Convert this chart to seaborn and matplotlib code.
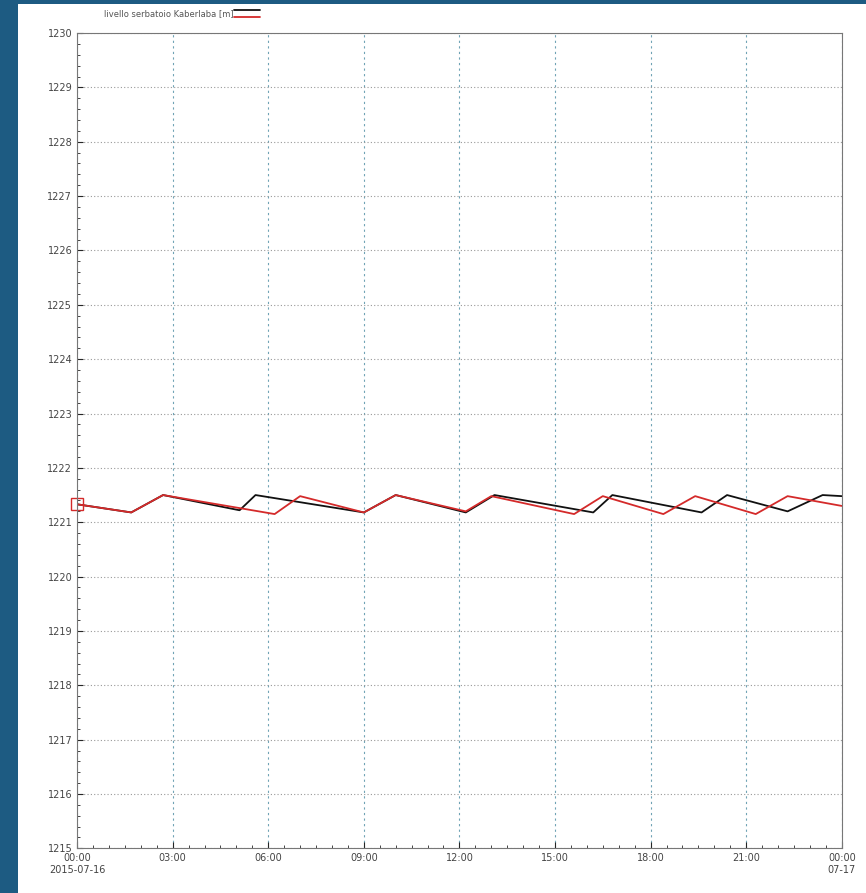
import matplotlib
matplotlib.use("Agg")
import matplotlib.pyplot as plt
import seaborn as sns
import numpy as np
import pandas as pd
from matplotlib.ticker import MultipleLocator, FormatStrFormatter

black_h = [0, 1.7, 2.7, 5.1, 5.6, 9.0, 10.0, 12.2, 13.1, 16.2, 16.8, 19.6, 20.4, 22.3, 23.4, 24.0]
black_v = [1221.33, 1221.18, 1221.5, 1221.22, 1221.5, 1221.18, 1221.5, 1221.18, 1221.5, 1221.18, 1221.5, 1221.18, 1221.5, 1221.2, 1221.5, 1221.48]
red_h = [0, 1.7, 2.7, 6.2, 7.0, 9.0, 10.0, 12.2, 13.0, 15.6, 16.5, 18.4, 19.4, 21.3, 22.3, 24.0]
red_v = [1221.33, 1221.18, 1221.5, 1221.15, 1221.48, 1221.18, 1221.5, 1221.2, 1221.48, 1221.15, 1221.48, 1221.15, 1221.48, 1221.15, 1221.48, 1221.3]
xticks = [0, 3, 6, 9, 12, 15, 18, 21, 24]
xlabels = ["00:00\n2015-07-16", "03:00", "06:00", "09:00", "12:00", "15:00", "18:00", "21:00", "00:00\n07-17"]
legend_label = "livello serbatoio Kaberlaba [m]"

sns.set_style("white")
fig = plt.figure(figsize=(8.66, 8.93), dpi=100, facecolor="#1d5b82")
bg = fig.add_axes([0.021, 0, 0.979, 0.995], zorder=-1)
bg.set_axis_off()
bg.add_patch(plt.Rectangle((0, 0), 1, 1, color="white", transform=bg.transAxes))

ax = fig.add_axes([0.089, 0.050, 0.883, 0.913])
ax.set_facecolor("white")

df = pd.concat([pd.DataFrame({"h": black_h, "v": black_v, "s": "a"}),
                pd.DataFrame({"h": red_h, "v": red_v, "s": "b"})])
sns.lineplot(data=df, x="h", y="v", hue="s", palette={"a": "#111111", "b": "#d42a2a"},
             ax=ax, legend=False, linewidth=1.3, estimator=None, sort=False)
ax.plot([black_h[0]], [black_v[0]], marker="s", mfc="none", mec="#d42a2a", ms=8, clip_on=False)

ax.set_xlim(0, 24)
ax.set_ylim(1215, 1230)
ax.set_xticks(xticks)
ax.set_xticklabels(xlabels, fontsize=7, color="#444444")
ax.yaxis.set_major_locator(MultipleLocator(1))
ax.yaxis.set_minor_locator(MultipleLocator(0.2))
ax.xaxis.set_minor_locator(MultipleLocator(0.5))
ax.tick_params(axis="y", labelsize=7, labelcolor="#444444")
ax.tick_params(which="both", direction="in", length=4, bottom=True, left=True)
ax.tick_params(which="minor", length=2)
ax.yaxis.set_major_formatter(FormatStrFormatter("%d"))
ax.grid(axis="x", color="#6fa3b5", linestyle=(0, (2, 3)), linewidth=0.8)
ax.grid(axis="y", color="#999999", linestyle=(0, (1, 2)), linewidth=0.8)
ax.set_xlabel("")
ax.set_ylabel("")
for s in ax.spines.values():
    s.set_color("#777777")

fig.text(0.120, 0.985, legend_label, fontsize=6, color="#555555", va="center")
fig.add_artist(plt.Line2D([0.270, 0.300], [0.989, 0.989], color="#111111", lw=1.3, transform=fig.transFigure))
fig.add_artist(plt.Line2D([0.270, 0.300], [0.981, 0.981], color="#d42a2a", lw=1.3, transform=fig.transFigure))

fig.savefig("out.png", dpi=100, facecolor=fig.get_facecolor())
